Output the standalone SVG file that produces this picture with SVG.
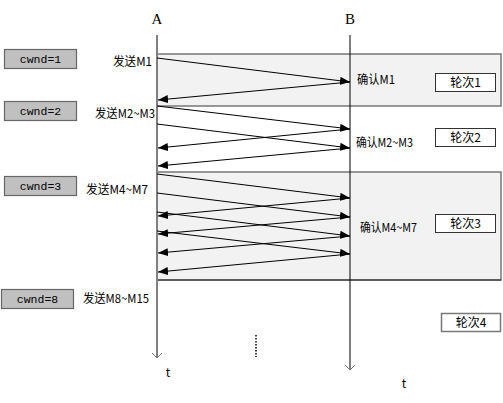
<svg xmlns="http://www.w3.org/2000/svg" width="503" height="403" viewBox="0 0 503 403">
<defs>
<marker id="ah" viewBox="0 0 10 8" refX="10" refY="4" markerWidth="10" markerHeight="8" markerUnits="userSpaceOnUse" orient="auto">
<path d="M0,0 L10,4 L0,8 Z" fill="#000"/>
</marker>
<style>
.cj{font-family:"Noto Sans CJK SC","Noto Sans",sans-serif;font-size:12px;fill:#000}
.mono{font-family:"Liberation Mono",monospace;font-size:11.5px;fill:#000}
.cw{fill:#c0c0c0;stroke:#666;stroke-width:1.2}
.rb{fill:#fff;stroke:#333;stroke-width:1}
.round{fill:#f2f2f2;stroke:#777;stroke-width:1.5}
.msg{stroke:#000;stroke-width:1;fill:none;marker-end:url(#ah)}
.ax{font-family:"Liberation Serif",serif;font-size:15px;fill:#000}
</style>
</defs>
<rect width="503" height="403" fill="#fff"/>
<g id="rounds">
<rect class="round" x="157" y="54" width="344" height="52"/>
<rect class="round" x="157" y="172" width="344" height="108"/>
<line x1="157" y1="280" x2="501" y2="280" stroke="#222" stroke-width="1.2"/>
</g>
<g id="axisA">
<text class="ax" x="157" y="24" text-anchor="middle">A</text>
<line x1="157" y1="35" x2="157" y2="358" stroke="#808080" stroke-width="2"/>
<path d="M152,353 L157,358 L162,353" fill="none" stroke="#808080" stroke-width="1"/>
<text class="cj" x="168" y="377" text-anchor="middle">t</text>
</g>
<g id="axisB">
<text class="ax" x="350" y="24" text-anchor="middle">B</text>
<line x1="350" y1="35" x2="350" y2="370" stroke="#000" stroke-width="1"/>
<path d="M345,365 L350,370 L355,365" fill="none" stroke="#777" stroke-width="1"/>
<text class="cj" x="404" y="388" text-anchor="middle">t</text>
</g>
<g id="connectors">
<line class="msg" x1="157" y1="58" x2="350" y2="82"/>
<line class="msg" x1="350" y1="82" x2="158" y2="100"/>
<line class="msg" x1="157" y1="106" x2="350" y2="129"/>
<line class="msg" x1="157" y1="124" x2="350" y2="148"/>
<line class="msg" x1="350" y1="129" x2="158" y2="148"/>
<line class="msg" x1="350" y1="148" x2="158" y2="166"/>
<line class="msg" x1="157" y1="174" x2="350" y2="198"/>
<line class="msg" x1="157" y1="193" x2="350" y2="217"/>
<line class="msg" x1="157" y1="212" x2="350" y2="236"/>
<line class="msg" x1="157" y1="231" x2="350" y2="254"/>
<line class="msg" x1="350" y1="198" x2="158" y2="216"/>
<line class="msg" x1="350" y1="217" x2="158" y2="234"/>
<line class="msg" x1="350" y1="236" x2="158" y2="253"/>
<line class="msg" x1="350" y1="254" x2="158" y2="272"/>
</g>
<g id="cwnd1"><rect class="cw" x="4.5" y="49.5" width="72" height="19"/><text class="mono" x="40.5" y="63" text-anchor="middle">cwnd=1</text></g>
<g id="cwnd2"><rect class="cw" x="4.5" y="101.5" width="72" height="19"/><text class="mono" x="40.5" y="115" text-anchor="middle">cwnd=2</text></g>
<g id="cwnd3"><rect class="cw" x="4.5" y="176.5" width="72" height="19"/><text class="mono" x="40.5" y="190" text-anchor="middle">cwnd=3</text></g>
<g id="cwnd8"><rect class="cw" x="1.5" y="289.5" width="72" height="19"/><text class="mono" x="37.5" y="303" text-anchor="middle">cwnd=8</text></g>
<g id="send1"><text class="cj" x="113" y="66" textLength="39" lengthAdjust="spacingAndGlyphs">发送M1</text></g>
<g id="send2"><text class="cj" x="95" y="118" textLength="60" lengthAdjust="spacingAndGlyphs">发送M2~M3</text></g>
<g id="send3"><text class="cj" x="86" y="194" textLength="62" lengthAdjust="spacingAndGlyphs">发送M4~M7</text></g>
<g id="send4"><text class="cj" x="83" y="303" textLength="66" lengthAdjust="spacingAndGlyphs">发送M8~M15</text></g>
<g id="ack1"><text class="cj" x="357" y="84" textLength="38" lengthAdjust="spacingAndGlyphs">确认M1</text></g>
<g id="ack2"><text class="cj" x="356" y="147" textLength="57" lengthAdjust="spacingAndGlyphs">确认M2~M3</text></g>
<g id="ack3"><text class="cj" x="360" y="232" textLength="57" lengthAdjust="spacingAndGlyphs">确认M4~M7</text></g>
<g id="round1"><rect class="rb" x="435.5" y="73.5" width="60" height="18"/><text class="cj" x="465.5" y="87" text-anchor="middle">轮次1</text></g>
<g id="round2"><rect class="rb" x="435.5" y="128.5" width="60" height="18"/><text class="cj" x="465.5" y="142" text-anchor="middle">轮次2</text></g>
<g id="round3"><rect class="rb" x="435.5" y="214.5" width="60" height="18"/><text class="cj" x="465.5" y="228" text-anchor="middle">轮次3</text></g>
<g id="round4"><rect class="rb" x="441.5" y="313.5" width="59" height="18" style="stroke:#777;stroke-width:1.5"/><text class="cj" x="471" y="327" text-anchor="middle">轮次4</text></g>
<line x1="256" y1="335" x2="256" y2="357" stroke="#000" stroke-width="1.5" stroke-dasharray="1.5 1.5"/>
</svg>
